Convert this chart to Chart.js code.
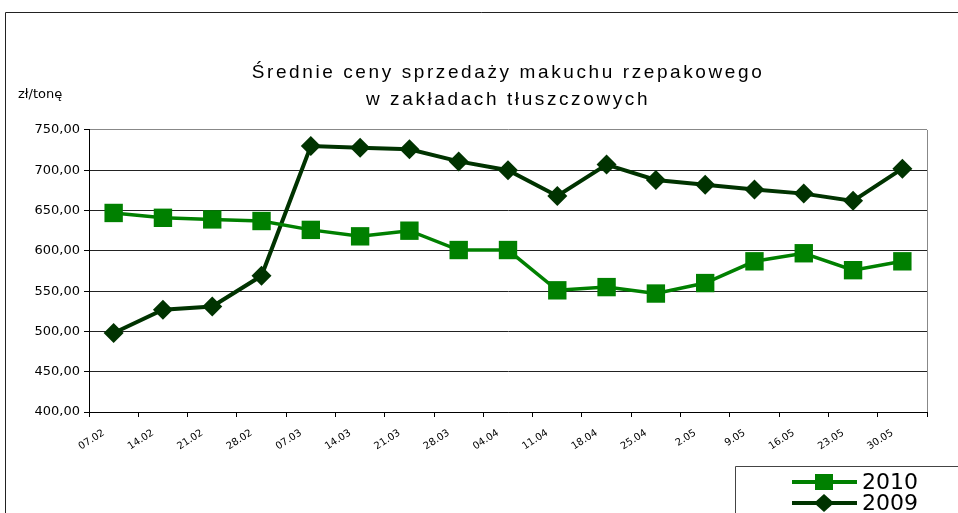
<!DOCTYPE html>
<html>
<head>
<meta charset="utf-8">
<script src="https://cdn.jsdelivr.net/npm/chart.js@4"></script>
<style>
  html, body { margin: 0; padding: 0; background: #fff; }
  #wrap { width: 958px; height: 513px; }
</style>
</head>
<body>
<div id="wrap"><canvas id="chart" width="958" height="513"></canvas></div>
<script>
const weeks = ['07.02', '14.02', '21.02', '28.02', '07.03', '14.03', '21.03', '28.03', '04.04',
  '11.04', '18.04', '25.04', '2.05', '9.05', '16.05', '23.05', '30.05'];
const prices2010 = [647, 641, 639, 637, 626, 618, 625, 601, 601, 551, 555, 547, 560, 587, 597, 576, 587];
const prices2009 = [498, 527, 531, 569, 730, 728, 726, 711, 700, 668, 707, 688, 682, 676, 671, 662, 702];
const titleLines = ['Średnie ceny sprzedaży makuchu rzepakowego', 'w zakładach tłuszczowych'];
const unitLabel = 'zł/tonę';

const FONT = 'DejaVu Sans';

// the title in the original is set with wide letter spacing
const spacedTitle = {
  id: 'spacedTitle',
  beforeDraw(chart) {
    const tb = chart.titleBlock;
    if (!tb || tb._spaced) return;
    const draw = tb.draw;
    tb.draw = function (area) {
      const c = this.ctx;
      c.save();
      c.letterSpacing = '2.6px';
      draw.call(this, area);
      c.restore();
    };
    tb._spaced = true;
  }
};

// frame, unit label and the boxed legend in the lower right corner
const extras = {
  id: 'extras',
  afterDraw(chart) {
    const c = chart.ctx;
    const area = chart.chartArea;
    c.save();
    c.strokeStyle = '#222';
    c.lineWidth = 1;
    c.beginPath();
    c.moveTo(5.5, 513);
    c.lineTo(5.5, 12.5);
    c.lineTo(958, 12.5);
    c.stroke();

    c.fillStyle = '#000';
    c.font = '13px "' + FONT + '"';
    c.textBaseline = 'alphabetic';
    c.fillText(unitLabel, 18, 98);

    // legend box
    c.strokeStyle = '#444';
    c.beginPath();
    c.moveTo(735.5, 513);
    c.lineTo(735.5, 466.5);
    c.lineTo(958, 466.5);
    c.stroke();

    chart.data.datasets.forEach((ds, i) => {
      const y = 482 + i * 21;
      c.strokeStyle = ds.borderColor;
      c.lineWidth = 4;
      c.beginPath();
      c.moveTo(792, y);
      c.lineTo(857, y);
      c.stroke();
      c.fillStyle = ds.backgroundColor;
      c.beginPath();
      if (ds.pointStyle === 'rect') {
        c.rect(815, y - 8, 18, 16);
      } else {
        c.moveTo(824, y - 9);
        c.lineTo(834, y);
        c.lineTo(824, y + 9);
        c.lineTo(814, y);
        c.closePath();
      }
      c.fill();
      c.fillStyle = '#000';
      c.font = '22px "' + FONT + '"';
      c.textBaseline = 'middle';
      c.fillText(ds.label, 862, y + 1);
    });

    // plot area right border
    c.strokeStyle = '#888';
    c.lineWidth = 1;
    c.beginPath();
    c.moveTo(area.right + 0.5, area.top);
    c.lineTo(area.right + 0.5, area.bottom);
    c.stroke();
    c.restore();
  }
};

new Chart(document.getElementById('chart'), {
  type: 'line',
  data: {
    labels: weeks,
    datasets: [
      {
        label: '2010',
        data: prices2010,
        borderColor: '#008000',
        backgroundColor: '#008000',
        borderWidth: 3.5,
        pointStyle: 'rect',
        pointRadius: 13,
        pointHoverRadius: 13,
        pointBorderWidth: 0,
        tension: 0
      },
      {
        label: '2009',
        data: prices2009,
        borderColor: '#003300',
        backgroundColor: '#003300',
        borderWidth: 4,
        pointStyle: 'rectRot',
        pointRadius: 10,
        pointHoverRadius: 10,
        pointBorderWidth: 0,
        tension: 0
      }
    ]
  },
  options: {
    responsive: false,
    animation: false,
    layout: { padding: { left: 0, right: 31, top: 0, bottom: 0 } },
    plugins: {
      legend: { display: false },
      tooltip: { enabled: false },
      title: {
        display: true,
        fullSize: false,
        text: titleLines,
        color: '#000',
        font: { family: 'Liberation Sans', size: 19, weight: 'normal', lineHeight: 1.42 },
        padding: { top: 59, bottom: 17 }
      }
    },
    scales: {
      x: {
        offset: true,
        afterFit(scale) { scale.height = 101; },
        grid: {
          offset: true,
          drawOnChartArea: false,
          color: '#000',
          tickColor: '#000',
          tickLength: 5
        },
        border: { color: '#000', width: 1 },
        ticks: {
          color: '#000',
          font: { family: FONT, size: 10 },
          minRotation: 33,
          maxRotation: 33,
          autoSkip: false,
          padding: 10,
          labelOffset: -10
        }
      },
      y: {
        min: 400,
        max: 750,
        afterFit(scale) { scale.width = 89; },
        grid: {
          color: (ctx) => (ctx.tick && ctx.tick.value === 750 ? '#888' : '#222'),
          tickColor: '#000',
          tickLength: 5,
          lineWidth: 1
        },
        border: { color: '#000', width: 1 },
        ticks: {
          stepSize: 50,
          color: '#000',
          font: { family: FONT, size: 13 },
          padding: 4,
          callback: (v) => v.toFixed(2).replace('.', ',')
        }
      }
    }
  },
  plugins: [spacedTitle, extras]
});
</script>
</body>
</html>
